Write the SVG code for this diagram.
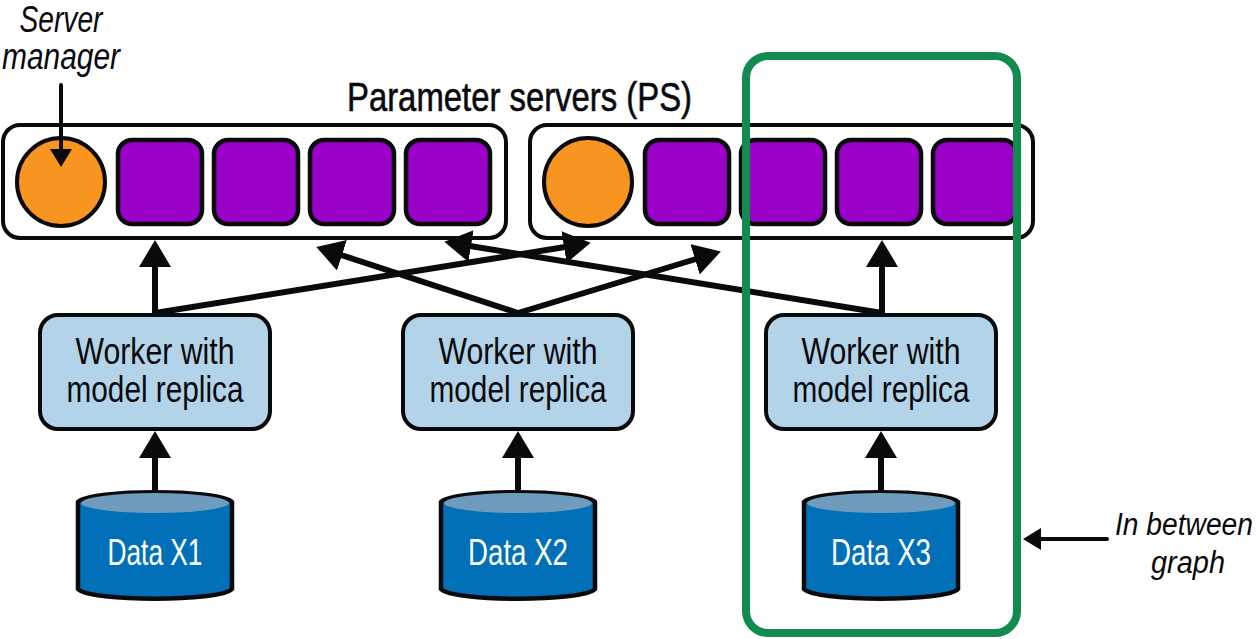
<svg xmlns="http://www.w3.org/2000/svg" width="1259" height="639" viewBox="0 0 1259 639">
<style>
text{font-family:"Liberation Sans",Arial,sans-serif;fill:#0a0a0c;text-anchor:middle}
.ps{fill:#fff;stroke:#0a0a0c;stroke-width:4}
.sq{fill:#9900c8;stroke:#0a0a0c;stroke-width:4.5}
.mgr{fill:#f89520;stroke:#0a0a0c;stroke-width:4}
.wk{fill:#b2d3e8;stroke:#0a0a0c;stroke-width:4}
.wt{font-size:37px}
.dt{font-size:37px;fill:#fff}
.body{fill:#0270b8;stroke:#0a0a0c;stroke-width:4.5}
.top{fill:#6f9cbd}
.c{stroke:#0a0a0c;stroke-width:6;fill:none}
.n{stroke:#0a0a0c;stroke-width:4;fill:none;stroke-linecap:round}
.it{font-size:36px;font-style:italic}
.it2{font-size:31px;font-style:italic}
.title{font-size:40px;stroke:#0a0a0c;stroke-width:.6}
</style>
<defs>
<marker id="a" markerUnits="userSpaceOnUse" markerWidth="30" markerHeight="34" refX="1" refY="16" orient="auto"><path d="M0 0L27 16L0 32Z" fill="#0a0a0c"/></marker>
<marker id="b" markerUnits="userSpaceOnUse" markerWidth="22" markerHeight="24" refX="1" refY="11" orient="auto"><path d="M0 0L18 11L0 22Z" fill="#0a0a0c"/></marker>
</defs>
<g id="ps-title"><text class="title" x="519.5" y="111" textLength="345" lengthAdjust="spacingAndGlyphs">Parameter servers (PS)</text></g>
<g id="ps-1">
<rect class="ps" x="3" y="125" width="503" height="113" rx="17"/>
<circle class="mgr" cx="61" cy="182" r="44"/>
<rect class="sq" x="118" y="140" width="84" height="84" rx="14"/>
<rect class="sq" x="214" y="140" width="84" height="84" rx="14"/>
<rect class="sq" x="310" y="140" width="84" height="84" rx="14"/>
<rect class="sq" x="406" y="140" width="84" height="84" rx="14"/>
</g>
<g id="ps-2">
<rect class="ps" x="530" y="125" width="503" height="113" rx="17"/>
<circle class="mgr" cx="588" cy="182" r="44"/>
<rect class="sq" x="645" y="140" width="84" height="84" rx="14"/>
<rect class="sq" x="741" y="140" width="84" height="84" rx="14"/>
<rect class="sq" x="837" y="140" width="84" height="84" rx="14"/>
<rect class="sq" x="933" y="140" width="84" height="84" rx="14"/>
</g>
<g id="worker-1">
<rect class="wk" x="40" y="315" width="230" height="114" rx="18"/>
<text class="wt" x="155" y="364" textLength="159" lengthAdjust="spacingAndGlyphs">Worker with</text>
<text class="wt" x="155" y="402" textLength="177" lengthAdjust="spacingAndGlyphs">model replica</text>
</g>
<g id="worker-2">
<rect class="wk" x="403" y="315" width="230" height="114" rx="18"/>
<text class="wt" x="518" y="364" textLength="159" lengthAdjust="spacingAndGlyphs">Worker with</text>
<text class="wt" x="518" y="402" textLength="177" lengthAdjust="spacingAndGlyphs">model replica</text>
</g>
<g id="worker-3">
<rect class="wk" x="766" y="315" width="230" height="114" rx="18"/>
<text class="wt" x="881" y="364" textLength="159" lengthAdjust="spacingAndGlyphs">Worker with</text>
<text class="wt" x="881" y="402" textLength="177" lengthAdjust="spacingAndGlyphs">model replica</text>
</g>
<g id="data-1">
<path class="body" d="M78 502C90 489 220 489 232 502V589C220 602 90 602 78 589Z"/>
<ellipse class="top" cx="155" cy="503" rx="74" ry="10"/>
<text class="dt" x="155" y="565" textLength="95" lengthAdjust="spacingAndGlyphs">Data X1</text>
</g>
<g id="data-2">
<path class="body" d="M441 502C453 489 583 489 595 502V589C583 602 453 602 441 589Z"/>
<ellipse class="top" cx="518" cy="503" rx="74" ry="10"/>
<text class="dt" x="518" y="565" textLength="100" lengthAdjust="spacingAndGlyphs">Data X2</text>
</g>
<g id="data-3">
<path class="body" d="M804 502C816 489 946 489 958 502V589C946 602 816 602 804 589Z"/>
<ellipse class="top" cx="881" cy="503" rx="74" ry="10"/>
<text class="dt" x="881" y="565" textLength="100" lengthAdjust="spacingAndGlyphs">Data X3</text>
</g>
<g id="connectors">
<path class="c" d="M155 313V266" marker-end="url(#a)"/>
<path class="c" d="M882 313V266" marker-end="url(#a)"/>
<path class="c" d="M155 491V457" marker-end="url(#a)"/>
<path class="c" d="M518 491V457" marker-end="url(#a)"/>
<path class="c" d="M881 491V457" marker-end="url(#a)"/>
<path class="c" d="M155 313L565 247" marker-end="url(#a)"/>
<path class="c" d="M518 313L341 255" marker-end="url(#a)"/>
<path class="c" d="M518 313L696 259" marker-end="url(#a)"/>
<path class="c" d="M882 313L470 246" marker-end="url(#a)"/>
<path class="n" d="M61 85V150" marker-end="url(#b)"/>
<path class="n" d="M1107 539H1040" marker-end="url(#b)"/>
</g>
<g id="server-manager-label">
<text class="it" x="61" y="32" textLength="83" lengthAdjust="spacingAndGlyphs">Server</text>
<text class="it" x="61" y="69" textLength="118" lengthAdjust="spacingAndGlyphs">manager</text>
</g>
<g id="in-between-graph">
<rect x="746" y="56" width="271" height="577" rx="22" fill="none" stroke="#118c4e" stroke-width="8"/>
</g>
<g id="in-between-label">
<text class="it2" x="1184" y="535" textLength="138" lengthAdjust="spacingAndGlyphs">In between</text>
<text class="it2" x="1188" y="573" textLength="74" lengthAdjust="spacingAndGlyphs">graph</text>
</g>
</svg>
